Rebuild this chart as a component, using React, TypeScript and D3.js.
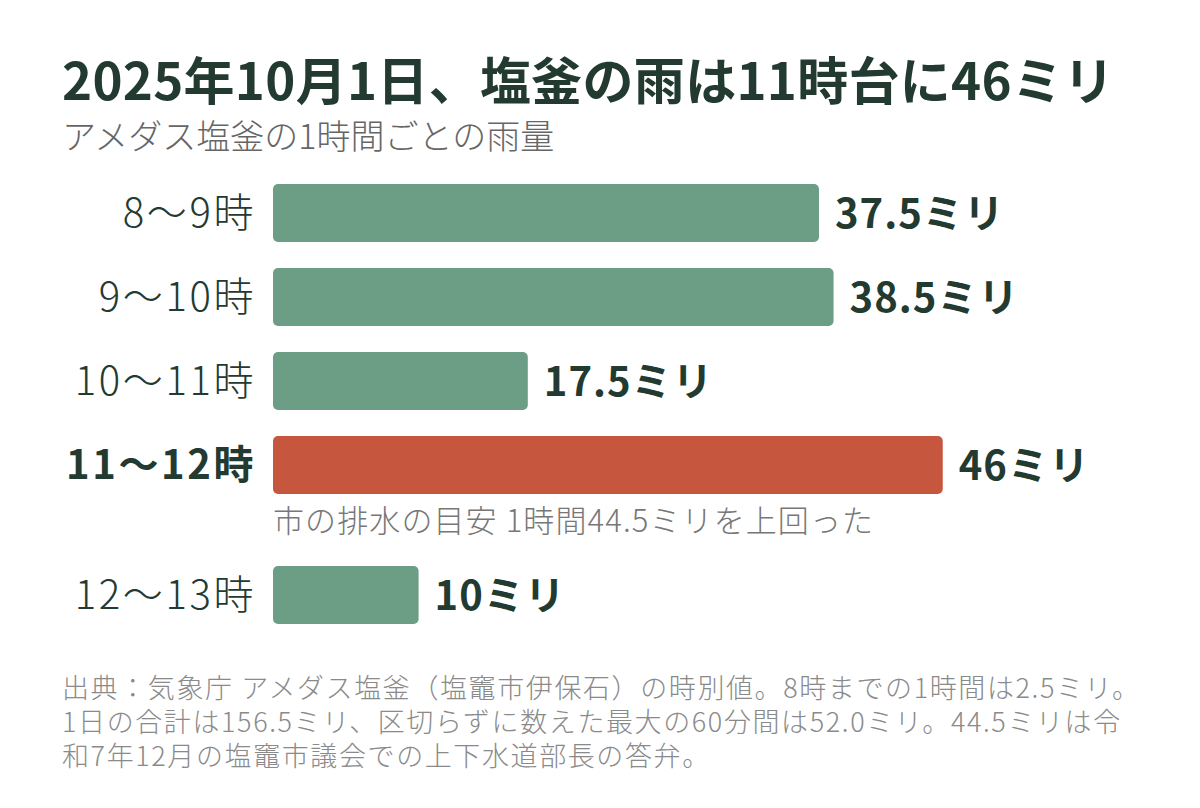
import * as d3 from 'd3';
import React from "react";

const hours = ["8〜9時", "9〜10時", "10〜11時", "11〜12時", "12〜13時"];
const rainMm = [37.5, 38.5, 17.5, 46, 10];
const highlightHour = "11〜12時";
const valueLabels = ["37.5ミリ", "38.5ミリ", "17.5ミリ", "46ミリ", "10ミリ"];

const title = "2025年10月1日、塩釜の雨は11時台に46ミリ";
const subtitle = "アメダス塩釜の1時間ごとの雨量";
const note = "市の排水の目安 1時間44.5ミリを上回った";
const footer = [
    "出典：気象庁 アメダス塩釜（塩竈市伊保石）の時別値。8時までの1時間は2.5ミリ。",
    "1日の合計は156.5ミリ、区切らずに数えた最大の60分間は52.0ミリ。44.5ミリは令",
    "和7年12月の塩竈市議会での上下水道部長の答弁。",
];

const W = 1200, H = 808;
const FONT = "'Noto Sans CJK JP', 'Noto Sans', sans-serif";
const DARK = "#233a31";
const GREEN = "#6c9e86";
const RED = "#c6563e";

export default function App() {
    const x0 = 273;
    const x = d3.scaleLinear().domain([0, 37.5]).range([x0, 819]);
    const y = d3.scaleBand().domain(hours).range([184, 578]).paddingInner(26 / 84);
    const hiIdx = hours.indexOf(highlightHour);
    const noteGap = 46;
    const top = (h: string, i: number) => (y(h) as number) + (i > hiIdx ? noteGap : 0);
    const bh = y.bandwidth();

    return (
        <div style={{ position: "absolute", left: 0, top: 0 }}>
            <svg width={W} height={H} style={{ display: "block", background: "#fff", fontFamily: FONT }}>
                <text x={62} y={100} fontSize={51} fontWeight={700} letterSpacing={0.3} fill={DARK}>{title}</text>
                <text x={62} y={149} fontSize={34} fontWeight={300} fill="#666">{subtitle}</text>

                {hours.map((h, i) => {
                    const yt = top(h, i);
                    const hi = h === highlightHour;
                    return (
                        <g key={h}>
                            <rect x={x0} y={yt} width={x(rainMm[i]) - x0} height={bh} rx={5}
                                fill={hi ? RED : GREEN} />
                            <text x={256} y={yt + bh / 2} dy="0.36em" textAnchor="end" fontSize={40}
                                fontWeight={hi ? 700 : 300} letterSpacing={2.6} fill={DARK}>{h}</text>
                            <text x={x(rainMm[i]) + 16} y={yt + bh / 2} dy="0.38em" fontSize={40}
                                fontWeight={700} letterSpacing={1} fill={DARK}>{valueLabels[i]}</text>
                            {hi && (
                                <text x={x0} y={yt + bh + 38} fontSize={31} fontWeight={300} letterSpacing={1.1}
                                    fill="#777">{note}</text>
                            )}
                        </g>
                    );
                })}

                {footer.map((line, i) => (
                    <text key={i} x={62} y={698 + i * 34} fontSize={27} fontWeight={300} letterSpacing={1.6}
                        fill="#8a8a8a">{line}</text>
                ))}
            </svg>
        </div>
    );
}
